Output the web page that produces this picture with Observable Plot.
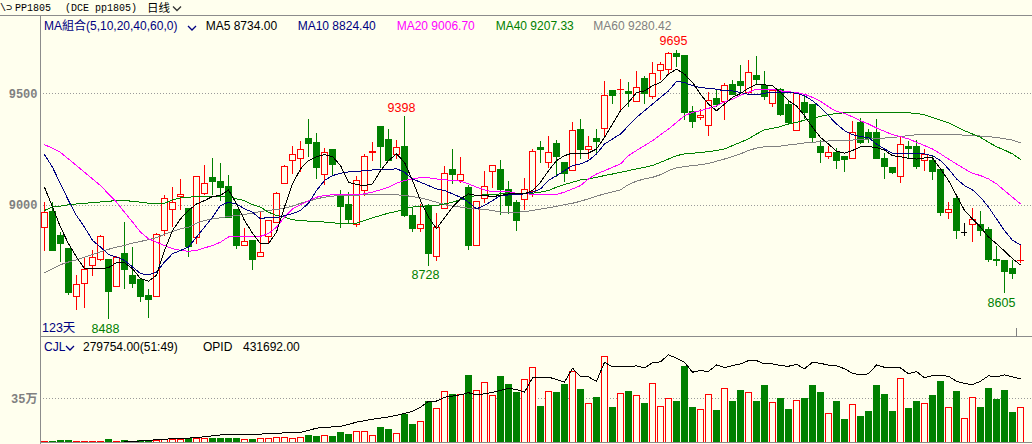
<!DOCTYPE html>
<html><head><meta charset="utf-8">
<script src="https://cdn.jsdelivr.net/npm/d3@7"></script>
<script src="https://cdn.jsdelivr.net/npm/@observablehq/plot@0.6"></script>
<style>
html,body{margin:0;padding:0;background:#ffffee;}
#wrap{position:relative;width:1032px;height:444px;overflow:hidden;background:#ffffee;}
.layer{position:absolute;left:0;}
#overlay{position:absolute;left:0;top:0;pointer-events:none;}
</style></head>
<body><div id="wrap"></div>
<script>
// ---------- data ----------
const open = [8900,8969,8862,8807,8592,8650,8731,8754,8757,8635,
8781,8686,8665,8594,8591,8887,8982,9036,8985,8856,
9052,9125,9107,9085,8981,8820,8839,8771,8859,8923,
9097,9199,9208,9298,9280,9137,9248,9049,9004,8914,
9065,9237,9351,9295,9226,9262,8951,8896,8997,8771,
8985,9161,9110,9079,8820,9030,9152,9161,9070,9009,
9025,9061,9257,9190,9277,9192,9155,9339,9248,9299,
9342,9512,9516,9509,9463,9565,9484,9603,9606,9677,
9670,9418,9391,9356,9476,9464,9540,9554,9504,9580,
9536,9454,9516,9451,9335,9460,9451,9263,9216,9235,
9219,9207,9371,9326,9326,9208,9170,9129,9262,9262,
9201,9201,9161,8967,9030,8881,8911,8911,8891,8757,
8750,8717,8750];
const high = [9012,9012,8878,8807,8688,8765,8799,8865,8757,8772,
8923,8811,8665,8624,8876,9045,9080,9116,8985,9128,
9179,9210,9190,9134,8981,8896,8839,8970,8929,9058,
9179,9265,9287,9384,9321,9253,9248,9067,9057,9131,
9228,9281,9351,9339,9290,9398,8990,9003,9006,8964,
9176,9250,9214,9088,9016,9150,9177,9201,9109,9022,
9119,9249,9286,9307,9290,9192,9371,9387,9311,9339,
9557,9512,9564,9552,9601,9576,9641,9638,9683,9695,
9670,9443,9429,9507,9518,9548,9558,9625,9647,9665,
9598,9520,9525,9464,9501,9488,9451,9293,9265,9257,
9219,9375,9391,9339,9387,9235,9170,9305,9286,9293,
9250,9223,9161,9015,9049,8918,8985,8973,8900,8817,
8754,8754,8821];
const low = [8792,8796,8744,8598,8530,8539,8680,8750,8488,8631,
8624,8627,8566,8495,8591,8859,8900,8976,8769,8824,
9046,9046,9016,8946,8801,8820,8711,8771,8829,8918,
9097,9140,9149,9214,9118,9089,9134,8896,8914,8900,
9042,9198,9164,9198,9207,8948,8881,8881,8728,8749,
8985,9095,9097,8799,8820,9007,9076,8957,8958,8882,
8976,9037,9189,9165,9124,9101,9155,9208,9208,9231,
9298,9454,9424,9440,9463,9454,9476,9558,9588,9618,
9379,9345,9379,9308,9439,9379,9491,9496,9491,9536,
9469,9439,9397,9360,9330,9387,9283,9186,9204,9159,
9149,9204,9275,9278,9208,9115,9138,9097,9205,9159,
9153,9112,8952,8937,8850,8859,8836,8863,8744,8729,
8605,8668,8740];
const close = [8967,8796,8827,8609,8644,8710,8765,8860,8613,8765,
8713,8650,8591,8579,8866,9030,9012,9045,8814,9128,
9095,9104,9077,8946,8818,8838,8756,8789,8929,9052,
9174,9226,9250,9274,9168,9234,9180,8993,8935,9110,
9217,9240,9260,9198,9257,8952,8893,8914,8783,8900,
9141,9135,9137,8818,9016,9083,9177,9071,8997,8930,
9070,9240,9248,9235,9216,9140,9333,9247,9262,9283,
9490,9488,9519,9501,9525,9498,9588,9628,9677,9664,
9412,9376,9400,9469,9451,9533,9494,9536,9592,9561,
9484,9513,9405,9371,9498,9414,9301,9235,9237,9198,
9202,9324,9278,9298,9208,9173,9144,9271,9254,9171,
9226,9149,8966,8981,8885,8881,8933,8885,8754,8753,
8704,8693,8753];
const ma5 = [9082,8993,8903,8829,8769,8717,8716,8716,8722,8744,
8744,8717,8673,8661,8688,8799,8888,8940,8978,9007,
9022,9040,9045,9070,9007,8933,8876,8829,8829,8881,
8993,9097,9164,9201,9219,9228,9219,9179,9104,9094,
9089,9097,9156,9201,9231,9193,9112,9022,8948,8896,
8945,8993,9030,9052,9045,9045,9040,9045,9052,9052,
9052,9067,9104,9156,9201,9223,9235,9235,9235,9253,
9305,9365,9424,9461,9506,9513,9536,9551,9588,9610,
9588,9551,9498,9454,9424,9454,9484,9501,9525,9543,
9540,9536,9506,9469,9446,9402,9350,9305,9275,9243,
9234,9246,9263,9263,9260,9248,9223,9219,9211,9208,
9213,9213,9164,9112,9045,8978,8940,8903,8859,8829,
8796,8762,8734];
const ma10 = [9228,9171,9097,9022,8955,8903,8844,8814,8781,8769,
8754,8725,8695,8690,8702,8747,8784,8799,8814,8859,
8903,8948,9000,9015,9007,8985,8970,8940,8948,8945,
8955,8963,8978,9010,9067,9112,9134,9144,9150,9152,
9156,9159,9159,9159,9165,9149,9119,9104,9089,9074,
9067,9052,9037,9015,8985,9000,9022,9045,9047,9048,
9052,9060,9074,9112,9134,9156,9179,9186,9201,9231,
9275,9298,9320,9357,9394,9424,9454,9484,9513,9555,
9551,9536,9528,9524,9521,9513,9513,9506,9498,9495,
9503,9506,9506,9505,9503,9491,9469,9439,9402,9365,
9335,9317,9308,9305,9275,9253,9234,9234,9234,9234,
9231,9223,9201,9164,9119,9089,9070,9037,8993,8940,
8888,8844,8824];
const ma20 = [9272,9257,9238,9208,9179,9149,9119,9089,9052,9015,
8970,8926,8881,8851,8836,8821,8807,8799,8795,8799,
8810,8821,8836,8859,8863,8863,8863,8862,8874,8903,
8948,8985,9004,9022,9037,9045,9048,9048,9048,9049,
9052,9060,9070,9082,9100,9112,9119,9125,9124,9119,
9115,9112,9109,9097,9082,9070,9061,9061,9062,9055,
9052,9051,9049,9049,9049,9060,9074,9089,9119,9141,
9156,9171,9186,9223,9246,9268,9290,9317,9342,9372,
9402,9417,9424,9435,9446,9464,9476,9494,9506,9521,
9521,9520,9513,9509,9506,9498,9484,9466,9442,9421,
9412,9397,9379,9365,9347,9332,9317,9308,9298,9283,
9268,9253,9231,9208,9186,9164,9144,9134,9119,9097,
9067,9037,9007];
const ma40 = [8978,8993,8997,9003,9007,9010,9013,9016,9019,9022,
9022,9019,9015,9010,9007,9010,9025,9034,9037,9040,
9040,9040,9040,9040,9030,9022,9004,8993,8970,8955,
8948,8936,8933,8930,8929,8926,8923,8918,8918,8921,
8933,8945,8955,8966,8973,8985,8993,8996,8997,9000,
9007,9015,9025,9037,9045,9048,9049,9052,9052,9052,
9055,9055,9060,9067,9082,9094,9104,9115,9119,9126,
9134,9141,9149,9156,9164,9171,9179,9193,9208,9223,
9231,9234,9237,9241,9246,9253,9268,9283,9298,9320,
9339,9345,9353,9365,9372,9382,9391,9399,9406,9412,
9415,9415,9417,9418,9418,9418,9417,9415,9415,9412,
9406,9394,9382,9370,9353,9335,9320,9305,9283,9263,
9248,9231,9207];
const ma60 = [8699,8717,8735,8747,8757,8769,8781,8793,8804,8814,
8821,8832,8839,8847,8856,8871,8884,8896,8903,8921,
8933,8940,8945,8951,8955,8960,8966,8973,8978,8982,
8988,8997,9010,9019,9030,9037,9042,9045,9045,9046,
9048,9048,9048,9048,9048,9045,9040,9034,9025,9015,
9004,8997,8993,8988,8985,8982,8978,8970,8967,8970,
8972,8978,8984,8990,8996,9004,9010,9019,9030,9042,
9052,9061,9070,9094,9109,9119,9126,9138,9156,9168,
9174,9179,9182,9189,9198,9208,9219,9231,9246,9257,
9263,9264,9266,9271,9275,9280,9283,9286,9289,9290,
9292,9293,9295,9298,9301,9302,9305,9308,9313,9317,
9317,9317,9317,9317,9317,9315,9314,9311,9308,9305,
9299,9293,9280];
// volume (CJL), thousands of lots
const volumeK = [8,8,13,13,5,5,5,4,21,6,
13,11,16,16,16,26,21,21,34,29,
29,29,29,29,29,21,21,29,34,42,
37,29,42,53,48,53,45,76,63,90,
90,53,116,100,69,218,140,168,323,271,
405,384,384,534,415,476,376,526,463,394,
502,594,289,402,392,463,565,423,310,360,
681,281,389,400,373,305,468,289,350,321,
605,281,263,381,250,429,321,408,397,321,
455,318,352,258,334,352,455,392,232,321,
179,302,203,242,455,384,242,507,266,321,
310,376,486,279,400,192,358,281,431,337,
415,234,279.754];
// open interest (OPID), thousands
const opidK = [3,3,4,4,4,5,5,5,6,6,
7,10,14,18,22,25,29,31,33,36,
42,48,54,56,56,56,56,60,63,65,
68,70,72,84,100,105,108,112,125,140,
150,160,168,175,186,200,212,240,280,282,
308,315,324,338,324,331,340,353,367,360,
342,438,443,443,427,409,503,449,445,414,
543,512,512,512,519,505,539,546,593,570,
543,476,487,481,525,507,520,532,554,554,
532,532,520,516,529,499,543,536,523,520,
499,469,458,465,525,509,505,505,465,481,
438,454,454,449,415,400,393,415,452,445,
458,445,431.692];
const priceTicks = [9000, 9500];
const volTicks = [350000];
const volTickLabels = ["35万"];
const extremesHigh = [{i:79, v:9695, t:"9695"}, {i:45, v:9398, t:"9398"}];
const extremesLow = [{i:8, v:8488, t:"8488"}, {i:48, v:8728, t:"8728"}, {i:120, v:8605, t:"8605"}];
const maNames = ["MA5","MA10","MA20","MA40","MA60"];
const maLast = ["8734.00","8824.40","9006.70","9207.33","9280.42"];
const maColors = ["#000000","#000080","#ff00ff","#008000","#808080"];
const maArrays = [ma5, ma10, ma20, ma40, ma60];
const cjlText = "279754.00(51:49)";
const opidText = "431692.00";
const dayCount = "123天";

// ---------- drawing ----------
const BG = "#ffffee", RED = "#ff0000", GREEN = "#008000";
const CRISP = "crispEdges";
const idx = d3.range(open.length);
const candleColor = i => close[i] > open[i] ? RED : (close[i] < open[i] ? GREEN : "#000000");
const volColor = i => close[i] >= open[i] ? RED : GREEN;
const X = {type: "linear", domain: [0, open.length - 1], range: [44, 1020], axis: null};
const wrap = document.getElementById("wrap");
const baseStyle = {background: "transparent", overflow: "visible", fontFamily: "Liberation Sans, Arial, sans-serif"};

const main = Plot.plot({
  width: 1032, height: 321, marginLeft: 40, marginRight: 0, marginTop: 0, marginBottom: 0,
  style: baseStyle,
  x: X,
  y: {type: "linear", domain: [9000, 9500], range: [189, 77.3]},
  color: {type: "identity"},
  marks: [
    Plot.gridY(priceTicks, {stroke: "#9a9a9a", strokeOpacity: 1, strokeDasharray: "1,2", shapeRendering: CRISP}),
    Plot.axisY(priceTicks, {tickSize: 0, tickPadding: 3, tickFormat: d => String(d), label: null,
      fontSize: 12, fontWeight: "bold", fill: "#808080", fontFamily: "Liberation Mono, monospace"}),
    Plot.ruleX(idx, {x: i => i, y1: i => low[i], y2: i => high[i], stroke: candleColor, shapeRendering: CRISP}),
    Plot.rect(idx.filter(i => open[i] !== close[i]), {
      x1: i => i - 0.375, x2: i => i + 0.375, y1: i => open[i], y2: i => close[i],
      fill: i => close[i] > open[i] ? BG : GREEN, stroke: candleColor, shapeRendering: CRISP}),
    Plot.ruleY(idx.filter(i => open[i] === close[i]), {y: i => close[i], x1: i => i - 0.375, x2: i => i + 0.375, stroke: "#000000", shapeRendering: CRISP}),
    ...maArrays.slice().reverse().map((arr, k) => Plot.line(idx, {x: i => i, y: i => arr[i],
      stroke: maColors[maArrays.length - 1 - k], strokeWidth: 1, shapeRendering: CRISP})),
    Plot.text(extremesHigh, {x: "i", y: "v", text: "t", dx: -3, dy: -9, fill: RED, fontSize: 12.5}),
    Plot.text(extremesLow, {x: "i", y: "v", text: "t", dx: -3, dy: 9, fill: GREEN, fontSize: 12.5})
  ]
});
main.classList.add("layer"); main.style.top = "16px";
wrap.appendChild(main);

const volume = idx.map(i => volumeK[i] * 1000);
const vol = Plot.plot({
  width: 1032, height: 107, marginLeft: 40, marginRight: 0, marginTop: 0, marginBottom: 0,
  style: baseStyle,
  x: X,
  y: {type: "linear", domain: [0, 350000], range: [105.5, 61.3]},
  color: {type: "identity"},
  marks: [
    Plot.gridY(volTicks, {stroke: "#9a9a9a", strokeOpacity: 1, strokeDasharray: "1,2", shapeRendering: CRISP}),
    Plot.axisY(volTicks, {tickSize: 0, tickPadding: 3, tickFormat: (d, k) => volTickLabels[k], label: null,
      fontSize: 12, fontWeight: "bold", fill: "#808080", fontFamily: "Liberation Mono, Noto Sans CJK SC, monospace"}),
    Plot.rect(idx, {x1: i => i - 0.375, x2: i => i + 0.375, y1: i => 0, y2: i => volume[i],
      fill: i => volColor(i) === RED ? BG : GREEN, stroke: volColor, shapeRendering: CRISP})
  ]
});
vol.classList.add("layer"); vol.style.top = "337px";
wrap.appendChild(vol);

const opid = idx.map(i => opidK[i] * 1000);
const oi = Plot.plot({
  width: 1032, height: 107, marginLeft: 40, marginRight: 0, marginTop: 0, marginBottom: 0,
  style: baseStyle,
  x: X,
  y: {type: "linear", domain: [0, 431692], range: [105.5, 41.3], axis: null},
  marks: [
    Plot.line(idx.filter(i => i >= 10), {x: i => i, y: i => opid[i], stroke: "#000000", strokeWidth: 1, shapeRendering: CRISP})
  ]
});
oi.classList.add("layer"); oi.style.top = "337px";
wrap.appendChild(oi);

// ---------- frame, header and legend texts ----------
const NS = "http://www.w3.org/2000/svg";
const ov = document.createElementNS(NS, "svg");
ov.setAttribute("id", "overlay"); ov.setAttribute("width", 1032); ov.setAttribute("height", 444);
wrap.appendChild(ov);
function el(tag, attrs, txt) {
  const e = document.createElementNS(NS, tag);
  for (const k in attrs) e.setAttribute(k, attrs[k]);
  if (txt != null) e.textContent = txt;
  ov.appendChild(e); return e;
}
const LINE = "#8c8c8c";
el("line", {x1: 0, x2: 1032, y1: 15.5, y2: 15.5, stroke: LINE});
el("line", {x1: 40.5, x2: 40.5, y1: 16, y2: 444, stroke: LINE});
el("line", {x1: 40, x2: 1032, y1: 336.5, y2: 336.5, stroke: LINE});
el("line", {x1: 40, x2: 1032, y1: 442.5, y2: 442.5, stroke: LINE});
el("line", {x1: 1016.5, x2: 1016.5, y1: 328, y2: 337, stroke: "#808080"});

const SANS = "Liberation Sans, Arial, sans-serif";
const MONO = "Liberation Mono, DejaVu Sans Mono, monospace";
const CJK = "Noto Sans CJK SC, sans-serif";
function chevron(x, y, color) {
  el("polyline", {points: `${x},${y} ${x+4},${y+4} ${x+8},${y}`, fill: "none", stroke: color, "stroke-width": 1.3});
}
// header row
el("text", {x: 0, y: 11, "font-family": MONO, "font-size": 10, fill: "#000"}, "\\⊃");
el("text", {x: 15, y: 11, "font-family": MONO, "font-size": 10, fill: "#000"}, "PP1805");
el("text", {x: 65, y: 11, "font-family": MONO, "font-size": 10, fill: "#000"}, "(DCE pp1805)");
el("text", {x: 147, y: 12, "font-family": CJK, "font-size": 11.5, fill: "#000"}, "日线");
chevron(173, 6.5, "#333");
// MA legend row
el("text", {x: 44, y: 30, "font-family": SANS + ", Noto Sans CJK SC", "font-size": 12, fill: "#000080"}, "MA組合(5,10,20,40,60,0)");
chevron(188, 26, "#000080");
const maX = [205.7, 297.7, 396.7, 495.7, 593.3];
maNames.forEach((n, k) => el("text", {x: maX[k], y: 30, "font-family": SANS, "font-size": 12, fill: maColors[k]}, n + " " + maLast[k]));
// day count
el("text", {x: 42, y: 332, "font-family": SANS + ", Noto Sans CJK SC", "font-size": 12.5, fill: "#000080"}, dayCount);
// volume panel header
el("text", {x: 44, y: 350.5, "font-family": SANS, "font-size": 12, fill: "#000080"}, "CJL");
chevron(66, 346, "#000080");
el("text", {x: 83, y: 350.5, "font-family": SANS, "font-size": 12, fill: "#000"}, cjlText);
el("text", {x: 203, y: 350.5, "font-family": SANS, "font-size": 12, fill: "#000"}, "OPID");
el("text", {x: 243, y: 350.5, "font-family": SANS, "font-size": 12, fill: "#000"}, opidText);
</script>
</body></html>
